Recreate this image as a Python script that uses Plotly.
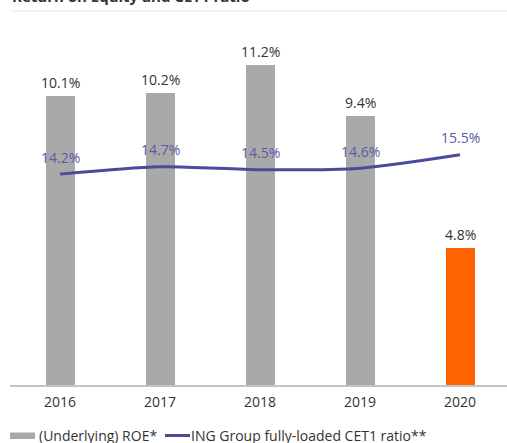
import plotly.graph_objects as go

# ---- data ----
years = ["2016", "2017", "2018", "2019", "2020"]
roe = [10.1, 10.2, 11.2, 9.4, 4.8]
cet1 = [14.2, 14.7, 14.5, 14.6, 15.5]
title_text = "Return on Equity and CET1 ratio"
roe_name = "(Underlying) ROE*"
cet1_name = "ING Group fully-loaded CET1 ratio**"

# ---- style ----
W, H = 507, 443
ML, MR, MT, MB = 10, 0, 20, 58
PW, PH = W - ML - MR, H - MT - MB
GRAY = "#a9a9a9"
ORANGE = "#ff6200"
LINE = "#4b4b9b"
LABEL_PURPLE = "#5a5aaa"
TXT = "#333333"
FONT = "Open Sans"
bar_colors = [GRAY, GRAY, GRAY, GRAY, ORANGE]


def px_x(px):
    return (px - ML) / PW


def px_y(py):
    return (H - MB - py) / PH


fig = go.Figure()
fig.add_trace(go.Bar(
    x=years, y=roe, width=0.29, marker=dict(color=bar_colors, line=dict(width=0)),
    name=roe_name, showlegend=False, hoverinfo="skip",
))
fig.add_trace(go.Scatter(
    x=years, y=cet1, yaxis="y2", mode="lines",
    line=dict(color=LINE, width=3, shape="spline", smoothing=0.8),
    name=cet1_name, showlegend=False, hoverinfo="skip",
))

annotations = []
for i, v in enumerate(roe):
    annotations.append(dict(x=i, y=v, xref="x", yref="y", text=f"{v:.1f}%",
                            showarrow=False, yanchor="middle", yshift=13.5,
                            font=dict(family=FONT, size=14, color=TXT)))
for i, v in enumerate(cet1):
    annotations.append(dict(x=i, y=v, xref="x", yref="y2", text=f"{v:.1f}%",
                            showarrow=False, yanchor="middle", yshift=17,
                            font=dict(family=FONT, size=14, color=LABEL_PURPLE)))

# title (mostly cut off at top)
annotations.append(dict(x=px_x(10), y=px_y(-4), xref="paper", yref="paper",
                        text=f"<b>{title_text}</b>", showarrow=False,
                        xanchor="left", yanchor="middle",
                        font=dict(family=FONT, size=15, color="#333333")))
# legend texts
annotations.append(dict(x=px_x(37), y=px_y(435), xref="paper", yref="paper",
                        text=roe_name, showarrow=False, xanchor="left", yanchor="middle",
                        font=dict(family=FONT, size=14, color=TXT)))
annotations.append(dict(x=px_x(189), y=px_y(435), xref="paper", yref="paper",
                        text=cet1_name, showarrow=False, xanchor="left", yanchor="middle",
                        font=dict(family=FONT, size=14, color=TXT)))

shapes = [
    # separator under title
    dict(type="line", xref="paper", yref="paper", x0=px_x(10), x1=px_x(507),
         y0=px_y(11), y1=px_y(11), line=dict(color="#e6e6e6", width=1)),
    # legend symbols
    dict(type="rect", xref="paper", yref="paper", x0=px_x(10), x1=px_x(35),
         y0=px_y(439), y1=px_y(432.5), fillcolor=GRAY, line=dict(width=0)),
    dict(type="line", xref="paper", yref="paper", x0=px_x(165), x1=px_x(190),
         y0=px_y(435.5), y1=px_y(435.5), line=dict(color=LINE, width=3)),
]

fig.update_layout(
    width=W, height=H,
    margin=dict(l=ML, r=MR, t=MT, b=MB),
    paper_bgcolor="white", plot_bgcolor="white",
    showlegend=False,
    bargap=0,
    xaxis=dict(type="category", range=[-0.5, -0.5 + PW / 100], showgrid=False,
               showline=True, linecolor="#c4c4c4", linewidth=1.5, ticks="",
               ticklabelstandoff=3,
               tickfont=dict(family=FONT, size=14, color=TXT), zeroline=False),
    yaxis=dict(range=[0, PH / 28.6], visible=False, showgrid=False),
    yaxis2=dict(range=[0, PH / 14.85], visible=False, showgrid=False,
                overlaying="y", side="right"),
    annotations=annotations,
    shapes=shapes,
)

fig.write_html("out.html", config={"displayModeBar": False},
               post_script="document.body.style.margin='0px';document.body.style.overflow='hidden';")
